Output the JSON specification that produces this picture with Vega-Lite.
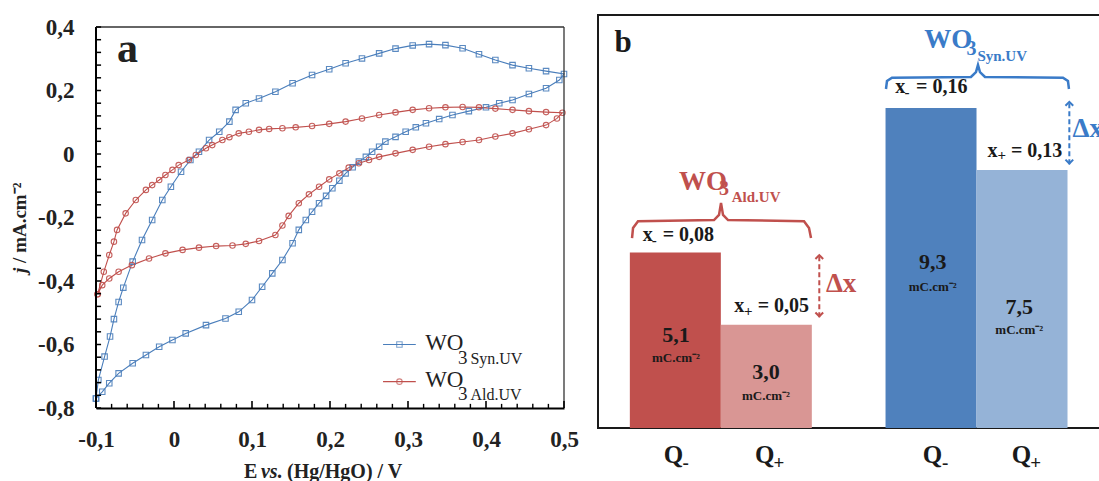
{
"$schema": "https://vega.github.io/schema/vega-lite/v6.json",
"padding": {"left": 11, "top": 14, "right": 0, "bottom": 0},
"spacing": 18,
"align": "none",
"config": {"font": "Liberation Serif", "axis": {"grid": false}},
"datasets": {
"cv": [
{"s":"Syn","E":-0.1,"j":-0.77},{"s":"Syn","E":-0.097,"j":-0.712},{"s":"Syn","E":-0.089,"j":-0.638},{"s":"Syn","E":-0.082,"j":-0.575},{"s":"Syn","E":-0.077,"j":-0.52},{"s":"Syn","E":-0.071,"j":-0.466},{"s":"Syn","E":-0.065,"j":-0.421},{"s":"Syn","E":-0.053,"j":-0.339},{"s":"Syn","E":-0.041,"j":-0.271},{"s":"Syn","E":-0.028,"j":-0.208},{"s":"Syn","E":-0.015,"j":-0.145},{"s":"Syn","E":-0.004,"j":-0.103},{"s":"Syn","E":0.009,"j":-0.056},{"s":"Syn","E":0.021,"j":-0.019},{"s":"Syn","E":0.032,"j":0.007},{"s":"Syn","E":0.045,"j":0.044},{"s":"Syn","E":0.058,"j":0.07},{"s":"Syn","E":0.071,"j":0.102},{"s":"Syn","E":0.079,"j":0.139},{"s":"Syn","E":0.092,"j":0.16},{"s":"Syn","E":0.109,"j":0.175},{"s":"Syn","E":0.13,"j":0.196},{"s":"Syn","E":0.152,"j":0.223},{"s":"Syn","E":0.177,"j":0.249},{"s":"Syn","E":0.199,"j":0.267},{"s":"Syn","E":0.22,"j":0.286},{"s":"Syn","E":0.241,"j":0.301},{"s":"Syn","E":0.263,"j":0.317},{"s":"Syn","E":0.284,"j":0.332},{"s":"Syn","E":0.306,"j":0.342},{"s":"Syn","E":0.327,"j":0.346},{"s":"Syn","E":0.348,"j":0.343},{"s":"Syn","E":0.37,"j":0.333},{"s":"Syn","E":0.391,"j":0.314},{"s":"Syn","E":0.412,"j":0.296},{"s":"Syn","E":0.434,"j":0.28},{"s":"Syn","E":0.455,"j":0.27},{"s":"Syn","E":0.477,"j":0.261},{"s":"Syn","E":0.5,"j":0.252},
{"s":"Syn","E":0.494,"j":0.233},{"s":"Syn","E":0.477,"j":0.207},{"s":"Syn","E":0.455,"j":0.189},{"s":"Syn","E":0.434,"j":0.17},{"s":"Syn","E":0.417,"j":0.16},{"s":"Syn","E":0.4,"j":0.147},{"s":"Syn","E":0.378,"j":0.135},{"s":"Syn","E":0.357,"j":0.123},{"s":"Syn","E":0.34,"j":0.11},{"s":"Syn","E":0.323,"j":0.097},{"s":"Syn","E":0.31,"j":0.084},{"s":"Syn","E":0.297,"j":0.07},{"s":"Syn","E":0.284,"j":0.054},{"s":"Syn","E":0.271,"j":0.039},{"s":"Syn","E":0.263,"j":0.023},{"s":"Syn","E":0.254,"j":0.007},{"s":"Syn","E":0.246,"j":-0.009},{"s":"Syn","E":0.237,"j":-0.024},{"s":"Syn","E":0.229,"j":-0.042},{"s":"Syn","E":0.22,"j":-0.061},{"s":"Syn","E":0.212,"j":-0.084},{"s":"Syn","E":0.203,"j":-0.108},{"s":"Syn","E":0.195,"j":-0.132},{"s":"Syn","E":0.186,"j":-0.155},{"s":"Syn","E":0.177,"j":-0.182},{"s":"Syn","E":0.169,"j":-0.208},{"s":"Syn","E":0.16,"j":-0.239},{"s":"Syn","E":0.152,"j":-0.281},{"s":"Syn","E":0.139,"j":-0.334},{"s":"Syn","E":0.126,"j":-0.376},{"s":"Syn","E":0.113,"j":-0.418},{"s":"Syn","E":0.1,"j":-0.46},{"s":"Syn","E":0.083,"j":-0.497},{"s":"Syn","E":0.066,"j":-0.518},{"s":"Syn","E":0.041,"j":-0.539},{"s":"Syn","E":0.015,"j":-0.565},{"s":"Syn","E":-0.002,"j":-0.586},{"s":"Syn","E":-0.019,"j":-0.607},{"s":"Syn","E":-0.036,"j":-0.633},{"s":"Syn","E":-0.053,"j":-0.659},{"s":"Syn","E":-0.071,"j":-0.691},{"s":"Syn","E":-0.083,"j":-0.722},{"s":"Syn","E":-0.092,"j":-0.749},{"s":"Syn","E":-0.1,"j":-0.77},
{"s":"Ald","E":-0.098,"j":-0.442},{"s":"Ald","E":-0.09,"j":-0.371},{"s":"Ald","E":-0.083,"j":-0.318},{"s":"Ald","E":-0.077,"j":-0.276},{"s":"Ald","E":-0.073,"j":-0.239},{"s":"Ald","E":-0.062,"j":-0.187},{"s":"Ald","E":-0.049,"j":-0.145},{"s":"Ald","E":-0.036,"j":-0.113},{"s":"Ald","E":-0.028,"j":-0.098},{"s":"Ald","E":-0.019,"j":-0.082},{"s":"Ald","E":-0.011,"j":-0.066},{"s":"Ald","E":-0.002,"j":-0.05},{"s":"Ald","E":0.006,"j":-0.035},{"s":"Ald","E":0.019,"j":-0.019},{"s":"Ald","E":0.028,"j":-0.003},{"s":"Ald","E":0.041,"j":0.018},{"s":"Ald","E":0.049,"j":0.028},{"s":"Ald","E":0.062,"j":0.044},{"s":"Ald","E":0.071,"j":0.053},{"s":"Ald","E":0.083,"j":0.065},{"s":"Ald","E":0.096,"j":0.07},{"s":"Ald","E":0.109,"j":0.076},{"s":"Ald","E":0.122,"j":0.079},{"s":"Ald","E":0.139,"j":0.081},{"s":"Ald","E":0.156,"j":0.084},{"s":"Ald","E":0.177,"j":0.088},{"s":"Ald","E":0.199,"j":0.095},{"s":"Ald","E":0.22,"j":0.102},{"s":"Ald","E":0.241,"j":0.112},{"s":"Ald","E":0.263,"j":0.123},{"s":"Ald","E":0.284,"j":0.131},{"s":"Ald","E":0.306,"j":0.139},{"s":"Ald","E":0.327,"j":0.144},{"s":"Ald","E":0.348,"j":0.147},{"s":"Ald","E":0.37,"j":0.148},{"s":"Ald","E":0.391,"j":0.147},{"s":"Ald","E":0.412,"j":0.143},{"s":"Ald","E":0.434,"j":0.139},{"s":"Ald","E":0.455,"j":0.135},{"s":"Ald","E":0.477,"j":0.132},{"s":"Ald","E":0.498,"j":0.13},
{"s":"Ald","E":0.491,"j":0.112},{"s":"Ald","E":0.477,"j":0.091},{"s":"Ald","E":0.455,"j":0.078},{"s":"Ald","E":0.434,"j":0.065},{"s":"Ald","E":0.412,"j":0.055},{"s":"Ald","E":0.391,"j":0.044},{"s":"Ald","E":0.37,"j":0.038},{"s":"Ald","E":0.348,"j":0.031},{"s":"Ald","E":0.327,"j":0.023},{"s":"Ald","E":0.306,"j":0.013},{"s":"Ald","E":0.284,"j":0.002},{"s":"Ald","E":0.263,"j":-0.009},{"s":"Ald","E":0.25,"j":-0.019},{"s":"Ald","E":0.237,"j":-0.029},{"s":"Ald","E":0.224,"j":-0.043},{"s":"Ald","E":0.212,"j":-0.061},{"s":"Ald","E":0.199,"j":-0.08},{"s":"Ald","E":0.186,"j":-0.103},{"s":"Ald","E":0.173,"j":-0.127},{"s":"Ald","E":0.16,"j":-0.155},{"s":"Ald","E":0.147,"j":-0.195},{"s":"Ald","E":0.139,"j":-0.225},{"s":"Ald","E":0.13,"j":-0.255},{"s":"Ald","E":0.109,"j":-0.274},{"s":"Ald","E":0.092,"j":-0.283},{"s":"Ald","E":0.075,"j":-0.288},{"s":"Ald","E":0.054,"j":-0.29},{"s":"Ald","E":0.032,"j":-0.295},{"s":"Ald","E":0.011,"j":-0.302},{"s":"Ald","E":-0.011,"j":-0.313},{"s":"Ald","E":-0.032,"j":-0.329},{"s":"Ald","E":-0.054,"j":-0.35},{"s":"Ald","E":-0.071,"j":-0.371},{"s":"Ald","E":-0.083,"j":-0.392},{"s":"Ald","E":-0.092,"j":-0.413},{"s":"Ald","E":-0.098,"j":-0.442}
],
"frame": [{"k":"L","E":-0.1,"E2":-0.1,"j":-0.8,"j2":0.4},{"k":"T","E":-0.1,"E2":0.5,"j":0.4,"j2":0.4},{"k":"R","E":0.5,"E2":0.5,"j":-0.8,"j2":0.4}],
"xtM": [{"E":-0.1},{"E":0},{"E":0.1},{"E":0.2},{"E":0.3},{"E":0.4},{"E":0.5}],
"xtm": [{"E":-0.08},{"E":-0.06},{"E":-0.04},{"E":-0.02},{"E":0.02},{"E":0.04},{"E":0.06},{"E":0.08},{"E":0.12},{"E":0.14},{"E":0.16},{"E":0.18},{"E":0.22},{"E":0.24},{"E":0.26},{"E":0.28},{"E":0.32},{"E":0.34},{"E":0.36},{"E":0.38},{"E":0.42},{"E":0.44},{"E":0.46},{"E":0.48}],
"yt": [{"j":-0.8},{"j":-0.76},{"j":-0.72},{"j":-0.68},{"j":-0.64},{"j":-0.6},{"j":-0.56},{"j":-0.52},{"j":-0.48},{"j":-0.44},{"j":-0.4},{"j":-0.36},{"j":-0.32},{"j":-0.28},{"j":-0.24},{"j":-0.2},{"j":-0.16},{"j":-0.12},{"j":-0.08},{"j":-0.04},{"j":0},{"j":0.04},{"j":0.08},{"j":0.12},{"j":0.16},{"j":0.2},{"j":0.24},{"j":0.28},{"j":0.32},{"j":0.36},{"j":0.4}],
"ttl": [
{"k":"E","E":0.0897,"j":-1.0205,"t":"E"},{"k":"vs","E":0.1115,"j":-1.0205,"t":"vs."},{"k":"rest","E":0.1449,"j":-1.0205,"t":"(Hg/HgO) / V"},
{"k":"jy","E":-0.1897,"j":-0.3748,"t":"j"},{"k":"ry","E":-0.1897,"j":-0.343,"t":"/ mA.cm⁻²"}
],
"legl": [{"s":"Syn","E":0.268,"E2":0.31,"j":-0.6},{"s":"Ald","E":0.268,"E2":0.31,"j":-0.717}],
"legp": [{"s":"Syn","E":0.289,"j":-0.6},{"s":"Ald","E":0.289,"j":-0.717}],
"legt": [
{"k":"WO","E":0.322,"j":-0.617,"t":"WO"},{"k":"WO","E":0.322,"j":-0.733,"t":"WO"},
{"k":"n3","E":0.364,"j":-0.66,"t":"3"},{"k":"n3","E":0.364,"j":-0.776,"t":"3"},
{"k":"sub","E":0.38,"j":-0.66,"t":"Syn.UV"},{"k":"sub","E":0.38,"j":-0.776,"t":"Ald.UV"},
{"k":"a","E":-0.073,"j":0.291,"t":"a"}
],
"bars": [
{"k":"Ald-","u":0.35,"u2":1.35,"v":5.1},{"k":"Ald+","u":1.35,"u2":2.35,"v":3.0},
{"k":"Syn-","u":3.16,"u2":4.16,"v":9.3},{"k":"Syn+","u":4.16,"u2":5.16,"v":7.5}
],
"ticks": [{"u":1.352},{"u":2.76},{"u":4.154}],
"brace": [
{"g":"Ald","i":0,"u":0.374,"v":5.52},{"g":"Ald","i":1,"u":0.385,"v":5.81},{"g":"Ald","i":2,"u":0.44,"v":6.01},{"g":"Ald","i":3,"u":1.275,"v":6.04},{"g":"Ald","i":4,"u":1.33,"v":6.19},{"g":"Ald","i":5,"u":1.352,"v":6.54},{"g":"Ald","i":6,"u":1.374,"v":6.19},{"g":"Ald","i":7,"u":1.429,"v":6.04},{"g":"Ald","i":8,"u":2.264,"v":6.01},{"g":"Ald","i":9,"u":2.319,"v":5.81},{"g":"Ald","i":10,"u":2.341,"v":5.52},
{"g":"Syn","i":0,"u":3.165,"v":9.85},{"g":"Syn","i":1,"u":3.176,"v":10.08},{"g":"Syn","i":2,"u":3.231,"v":10.18},{"g":"Syn","i":3,"u":4.099,"v":10.2},{"g":"Syn","i":4,"u":4.154,"v":10.34},{"g":"Syn","i":5,"u":4.176,"v":10.55},{"g":"Syn","i":6,"u":4.198,"v":10.34},{"g":"Syn","i":7,"u":4.253,"v":10.2},{"g":"Syn","i":8,"u":5.11,"v":10.18},{"g":"Syn","i":9,"u":5.165,"v":10.08},{"g":"Syn","i":10,"u":5.176,"v":9.85}
],
"arr": [{"g":"Ald","u":2.432,"v":3.22,"v2":5.05},{"g":"Syn","u":5.18,"v":7.66,"v2":9.5}],
"chev": [
{"g":"Ald","d":"up","u":2.432,"v":4.98},{"g":"Ald","d":"down","u":2.432,"v":3.29},
{"g":"Syn","d":"up","u":5.18,"v":9.43},{"g":"Syn","d":"down","u":5.18,"v":7.73}
],
"ann": [
{"k":"WO","g":"Ald","u":0.89,"v":6.91,"t":"WO"},{"k":"WO","g":"Syn","u":3.586,"v":11.03,"t":"WO"},
{"k":"three","g":"Ald","u":1.33,"v":6.77,"t":"3"},{"k":"three","g":"Syn","u":4.05,"v":10.84,"t":"3"},
{"k":"sub","g":"Ald","u":1.47,"v":6.57,"t":"Ald.UV"},{"k":"sub","g":"Syn","u":4.17,"v":10.67,"t":"Syn.UV"},
{"k":"dx","g":"Ald","u":2.505,"v":3.94,"t":"Δx"},{"k":"dx","g":"Syn","u":5.216,"v":8.46,"t":"Δx"},
{"k":"xl","u":0.491,"v":5.44,"t":"x"},{"k":"xl","u":1.498,"v":3.38,"t":"x"},{"k":"xl","u":3.267,"v":9.72,"t":"x"},{"k":"xl","u":4.282,"v":7.88,"t":"x"},
{"k":"xs","u":0.59,"v":5.33,"t":"-"},{"k":"xs","u":1.604,"v":3.25,"t":"+"},{"k":"xs","u":3.368,"v":9.61,"t":"-"},{"k":"xs","u":4.39,"v":7.79,"t":"+"},
{"k":"eq","u":0.711,"v":5.44,"t":"= 0,08"},{"k":"eq","u":1.755,"v":3.38,"t":"= 0,05"},{"k":"eq","u":3.495,"v":9.72,"t":"= 0,16"},{"k":"eq","u":4.538,"v":7.88,"t":"= 0,13"},
{"k":"val","u":0.857,"v":2.7,"t":"5,1"},{"k":"val","u":1.846,"v":1.63,"t":"3,0"},{"k":"val","u":3.678,"v":4.82,"t":"9,3"},{"k":"val","u":4.63,"v":3.52,"t":"7,5"},
{"k":"unit","u":0.857,"v":2.03,"t":"mC.cm⁻²"},{"k":"unit","u":1.846,"v":0.93,"t":"mC.cm⁻²"},{"k":"unit","u":3.678,"v":4.1,"t":"mC.cm⁻²"},{"k":"unit","u":4.63,"v":2.85,"t":"mC.cm⁻²"},
{"k":"Q","u":0.722,"v":-1.01,"t":"Q"},{"k":"Q","u":1.725,"v":-1.01,"t":"Q"},{"k":"Q","u":3.568,"v":-1.01,"t":"Q"},{"k":"Q","u":4.546,"v":-1.01,"t":"Q"},
{"k":"Qs","u":0.93,"v":-1.2,"t":"-"},{"k":"Qs","u":1.93,"v":-1.2,"t":"+"},{"k":"Qs","u":3.78,"v":-1.2,"t":"-"},{"k":"Qs","u":4.75,"v":-1.2,"t":"+"},
{"k":"b","u":0.18,"v":10.93,"t":"b"}
]
},
"hconcat": [
{
"width": 468, "height": 393,
"view": {"stroke": null},
"layer": [
{"data": {"name": "cv"}, "mark": {"type": "line", "strokeWidth": 1.1},
 "encoding": {
  "x": {"field": "E", "type": "quantitative", "scale": {"domain": [-0.1, 0.5], "nice": false, "zero": false},
   "axis": {"values": [-0.1, 0, 0.1, 0.2, 0.3, 0.4, 0.5],
    "labelExpr": "datum.value == 0 ? '0' : replace(replace(format(datum.value,'.1f'),'.',','),'\u2212','-')",
    "ticks": false, "labelPadding": 20, "labelFontSize": 23, "labelFontWeight": "bold", "labelColor": "#222", "labelFlush": false, "labelOverlap": false,
    "domainColor": "#000", "domainWidth": 2, "zindex": 1, "title": null}},
  "y": {"field": "j", "type": "quantitative", "scale": {"domain": [-0.8, 0.4378], "nice": false, "zero": false},
   "axis": {"values": [-0.8, -0.6, -0.4, -0.2, 0, 0.2, 0.4],
    "labelExpr": "datum.value == 0 ? '0' : replace(replace(format(datum.value,'.1f'),'.',','),'\u2212','-')",
    "ticks": false, "domain": false, "labelPadding": 22, "labelFontSize": 23, "labelFontWeight": "bold", "labelColor": "#222", "labelFlush": false, "labelOverlap": false,
    "zindex": 1, "title": null}},
  "color": {"field": "s", "type": "nominal", "scale": {"domain": ["Syn", "Ald"], "range": ["#4a7ebb", "#c0504d"]}, "legend": null},
  "order": {"field": "i", "type": "quantitative"}
 }},
{"data": {"name": "cv"}, "mark": {"type": "point", "filled": false, "size": 30, "strokeWidth": 1.1, "opacity": 0.9},
 "encoding": {
  "x": {"field": "E", "type": "quantitative"},
  "y": {"field": "j", "type": "quantitative"},
  "color": {"field": "s", "type": "nominal", "scale": {"domain": ["Syn", "Ald"], "range": ["#4a7ebb", "#c0504d"]}, "legend": null},
  "shape": {"field": "s", "type": "nominal", "scale": {"domain": ["Syn", "Ald"], "range": ["square", "circle"]}, "legend": null}
 }},
{"data": {"name": "frame"}, "transform": [{"filter": "datum.k=='L'"}], "mark": {"type": "rule", "strokeWidth": 2, "color": "#000"},
 "encoding": {"x": {"field": "E", "type": "quantitative"}, "x2": {"field": "E2"}, "y": {"field": "j", "type": "quantitative"}, "y2": {"field": "j2"}}},
{"data": {"name": "frame"}, "transform": [{"filter": "datum.k!='L'"}], "mark": {"type": "rule", "strokeWidth": 1.3, "color": "#333"},
 "encoding": {"x": {"field": "E", "type": "quantitative"}, "x2": {"field": "E2"}, "y": {"field": "j", "type": "quantitative"}, "y2": {"field": "j2"}}},
{"data": {"name": "xtM"}, "mark": {"type": "rule", "strokeWidth": 1.6, "color": "#000"},
 "encoding": {"x": {"field": "E", "type": "quantitative"}, "y": {"datum": -0.8, "type": "quantitative"}, "y2": {"datum": -0.778}}},
{"data": {"name": "xtm"}, "mark": {"type": "rule", "strokeWidth": 1.4, "color": "#000"},
 "encoding": {"x": {"field": "E", "type": "quantitative"}, "y": {"datum": -0.8, "type": "quantitative"}, "y2": {"datum": -0.787}}},
{"data": {"name": "yt"}, "mark": {"type": "rule", "strokeWidth": 1.5, "color": "#000"},
 "encoding": {"y": {"field": "j", "type": "quantitative"}, "x": {"datum": -0.1, "type": "quantitative"}, "x2": {"datum": -0.0935}}},
{"data": {"name": "ttl"}, "transform": [{"filter": "datum.k=='E' || datum.k=='rest'"}],
 "mark": {"type": "text", "fontSize": 20, "fontWeight": "bold", "align": "left", "baseline": "alphabetic", "color": "#222"},
 "encoding": {"x": {"field": "E", "type": "quantitative"}, "y": {"field": "j", "type": "quantitative"}, "text": {"field": "t"}}},
{"data": {"name": "ttl"}, "transform": [{"filter": "datum.k=='vs'"}],
 "mark": {"type": "text", "fontSize": 20, "fontWeight": "bold", "fontStyle": "italic", "align": "left", "baseline": "alphabetic", "color": "#222"},
 "encoding": {"x": {"field": "E", "type": "quantitative"}, "y": {"field": "j", "type": "quantitative"}, "text": {"field": "t"}}},
{"data": {"name": "ttl"}, "transform": [{"filter": "datum.k=='jy'"}],
 "mark": {"type": "text", "fontSize": 19, "fontWeight": "bold", "fontStyle": "italic", "angle": 270, "align": "left", "baseline": "alphabetic", "color": "#222"},
 "encoding": {"x": {"field": "E", "type": "quantitative"}, "y": {"field": "j", "type": "quantitative"}, "text": {"field": "t"}}},
{"data": {"name": "ttl"}, "transform": [{"filter": "datum.k=='ry'"}],
 "mark": {"type": "text", "fontSize": 19, "fontWeight": "bold", "angle": 270, "align": "left", "baseline": "alphabetic", "color": "#222"},
 "encoding": {"x": {"field": "E", "type": "quantitative"}, "y": {"field": "j", "type": "quantitative"}, "text": {"field": "t"}}},
{"data": {"name": "legl"}, "mark": {"type": "rule", "strokeWidth": 1.2},
 "encoding": {
  "x": {"field": "E", "type": "quantitative"}, "x2": {"field": "E2"},
  "y": {"field": "j", "type": "quantitative"},
  "color": {"field": "s", "type": "nominal", "scale": {"domain": ["Syn", "Ald"], "range": ["#4a7ebb", "#c0504d"]}, "legend": null}
 }},
{"data": {"name": "legp"}, "mark": {"type": "point", "filled": false, "size": 30, "strokeWidth": 1.1},
 "encoding": {
  "x": {"field": "E", "type": "quantitative"},
  "y": {"field": "j", "type": "quantitative"},
  "color": {"field": "s", "type": "nominal", "scale": {"domain": ["Syn", "Ald"], "range": ["#4a7ebb", "#c0504d"]}, "legend": null},
  "shape": {"field": "s", "type": "nominal", "scale": {"domain": ["Syn", "Ald"], "range": ["square", "circle"]}, "legend": null}
 }},
{"data": {"name": "legt"}, "transform": [{"filter": "datum.k=='WO'"}],
 "mark": {"type": "text", "fontSize": 23, "align": "left", "baseline": "alphabetic", "color": "#222"},
 "encoding": {"x": {"field": "E", "type": "quantitative"}, "y": {"field": "j", "type": "quantitative"}, "text": {"field": "t"}}},
{"data": {"name": "legt"}, "transform": [{"filter": "datum.k=='n3'"}],
 "mark": {"type": "text", "fontSize": 19, "align": "left", "baseline": "alphabetic", "color": "#222"},
 "encoding": {"x": {"field": "E", "type": "quantitative"}, "y": {"field": "j", "type": "quantitative"}, "text": {"field": "t"}}},
{"data": {"name": "legt"}, "transform": [{"filter": "datum.k=='sub'"}],
 "mark": {"type": "text", "fontSize": 16, "align": "left", "baseline": "alphabetic", "color": "#222"},
 "encoding": {"x": {"field": "E", "type": "quantitative"}, "y": {"field": "j", "type": "quantitative"}, "text": {"field": "t"}}},
{"data": {"name": "legt"}, "transform": [{"filter": "datum.k=='a'"}],
 "mark": {"type": "text", "fontSize": 42, "fontWeight": "bold", "align": "left", "baseline": "alphabetic", "color": "#222"},
 "encoding": {"x": {"field": "E", "type": "quantitative"}, "y": {"field": "j", "type": "quantitative"}, "text": {"field": "t"}}}
]
},
{
"width": 505, "height": 413,
"view": {"stroke": "#1a1a1a", "strokeWidth": 2},
"resolve": {"scale": {"color": "independent"}},
"encoding": {
 "x": {"field": "u", "type": "quantitative", "scale": {"domain": [0, 5.55], "nice": false, "zero": false}, "axis": null},
 "y": {"field": "v", "type": "quantitative", "scale": {"domain": [0, 12], "nice": false, "zero": false}, "axis": null}
},
"layer": [
{"data": {"name": "bars"}, "mark": {"type": "rect"},
 "encoding": {"x2": {"field": "u2"}, "y2": {"datum": 0},
  "color": {"field": "k", "type": "nominal", "scale": {"domain": ["Ald-", "Ald+", "Syn-", "Syn+"], "range": ["#c0504d", "#d99694", "#4f81bd", "#95b3d7"]}, "legend": null}}},
{"data": {"name": "ticks"}, "mark": {"type": "rule", "strokeWidth": 2, "color": "#111"},
 "encoding": {"y": {"datum": -0.2, "type": "quantitative", "axis": null}, "y2": {"datum": 0.2}}},
{"data": {"name": "brace"}, "mark": {"type": "line", "strokeWidth": 2.5},
 "encoding": {"detail": {"field": "g"}, "order": {"field": "i", "type": "quantitative"},
  "color": {"field": "g", "type": "nominal", "scale": {"domain": ["Ald", "Syn"], "range": ["#c0504d", "#3a7bc8"]}, "legend": null}}},
{"data": {"name": "arr"}, "mark": {"type": "rule", "strokeWidth": 2, "strokeDash": [5, 3]},
 "encoding": {"y2": {"field": "v2"},
  "color": {"field": "g", "type": "nominal", "scale": {"domain": ["Ald", "Syn"], "range": ["#c0504d", "#3a7bc8"]}, "legend": null}}},
{"data": {"name": "chev"}, "transform": [{"filter": "datum.d=='up'"}],
 "mark": {"type": "point", "shape": "M-1,0.6L0,-0.4L1,0.6", "filled": false, "size": 60, "strokeWidth": 2, "opacity": 1},
 "encoding": {"color": {"field": "g", "type": "nominal", "scale": {"domain": ["Ald", "Syn"], "range": ["#c0504d", "#3a7bc8"]}, "legend": null}}},
{"data": {"name": "chev"}, "transform": [{"filter": "datum.d=='down'"}],
 "mark": {"type": "point", "shape": "M-1,-0.6L0,0.4L1,-0.6", "filled": false, "size": 60, "strokeWidth": 2, "opacity": 1},
 "encoding": {"color": {"field": "g", "type": "nominal", "scale": {"domain": ["Ald", "Syn"], "range": ["#c0504d", "#3a7bc8"]}, "legend": null}}},
{"data": {"name": "ann"}, "transform": [{"filter": "datum.k=='WO'"}],
 "mark": {"type": "text", "fontSize": 27, "fontWeight": "bold", "align": "left", "baseline": "alphabetic"},
 "encoding": {"text": {"field": "t"}, "color": {"field": "g", "type": "nominal", "scale": {"domain": ["Ald", "Syn"], "range": ["#c0504d", "#3a7bc8"]}, "legend": null}}},
{"data": {"name": "ann"}, "transform": [{"filter": "datum.k=='three'"}],
 "mark": {"type": "text", "fontSize": 20, "fontWeight": "bold", "align": "left", "baseline": "alphabetic"},
 "encoding": {"text": {"field": "t"}, "color": {"field": "g", "type": "nominal", "scale": {"domain": ["Ald", "Syn"], "range": ["#c0504d", "#3a7bc8"]}, "legend": null}}},
{"data": {"name": "ann"}, "transform": [{"filter": "datum.k=='sub'"}],
 "mark": {"type": "text", "fontSize": 15, "fontWeight": "bold", "align": "left", "baseline": "alphabetic"},
 "encoding": {"text": {"field": "t"}, "color": {"field": "g", "type": "nominal", "scale": {"domain": ["Ald", "Syn"], "range": ["#c0504d", "#3a7bc8"]}, "legend": null}}},
{"data": {"name": "ann"}, "transform": [{"filter": "datum.k=='dx'"}],
 "mark": {"type": "text", "fontSize": 27, "fontWeight": "bold", "align": "left", "baseline": "alphabetic"},
 "encoding": {"text": {"field": "t"}, "color": {"field": "g", "type": "nominal", "scale": {"domain": ["Ald", "Syn"], "range": ["#c0504d", "#3a7bc8"]}, "legend": null}}},
{"data": {"name": "ann"}, "transform": [{"filter": "datum.k=='xl' || datum.k=='eq'"}],
 "mark": {"type": "text", "fontSize": 20, "fontWeight": "bold", "align": "left", "baseline": "alphabetic", "color": "#1a1a1a"},
 "encoding": {"text": {"field": "t"}}},
{"data": {"name": "ann"}, "transform": [{"filter": "datum.k=='xs'"}],
 "mark": {"type": "text", "fontSize": 15, "fontWeight": "bold", "align": "left", "baseline": "alphabetic", "color": "#1a1a1a"},
 "encoding": {"text": {"field": "t"}}},
{"data": {"name": "ann"}, "transform": [{"filter": "datum.k=='val'"}],
 "mark": {"type": "text", "fontSize": 22, "fontWeight": "bold", "align": "center", "baseline": "middle", "color": "#1a1a1a"},
 "encoding": {"text": {"field": "t"}}},
{"data": {"name": "ann"}, "transform": [{"filter": "datum.k=='unit'"}],
 "mark": {"type": "text", "fontSize": 13, "fontWeight": "bold", "align": "center", "baseline": "middle", "color": "#1a1a1a"},
 "encoding": {"text": {"field": "t"}}},
{"data": {"name": "ann"}, "transform": [{"filter": "datum.k=='Q'"}],
 "mark": {"type": "text", "fontSize": 25, "fontWeight": "bold", "align": "left", "baseline": "alphabetic", "color": "#1a1a1a"},
 "encoding": {"text": {"field": "t"}}},
{"data": {"name": "ann"}, "transform": [{"filter": "datum.k=='Qs'"}],
 "mark": {"type": "text", "fontSize": 19, "fontWeight": "bold", "align": "left", "baseline": "alphabetic", "color": "#1a1a1a"},
 "encoding": {"text": {"field": "t"}}},
{"data": {"name": "ann"}, "transform": [{"filter": "datum.k=='b'"}],
 "mark": {"type": "text", "fontSize": 31, "fontWeight": "bold", "align": "left", "baseline": "alphabetic", "color": "#1a1a1a"},
 "encoding": {"text": {"field": "t"}}}
]
}
]
}
